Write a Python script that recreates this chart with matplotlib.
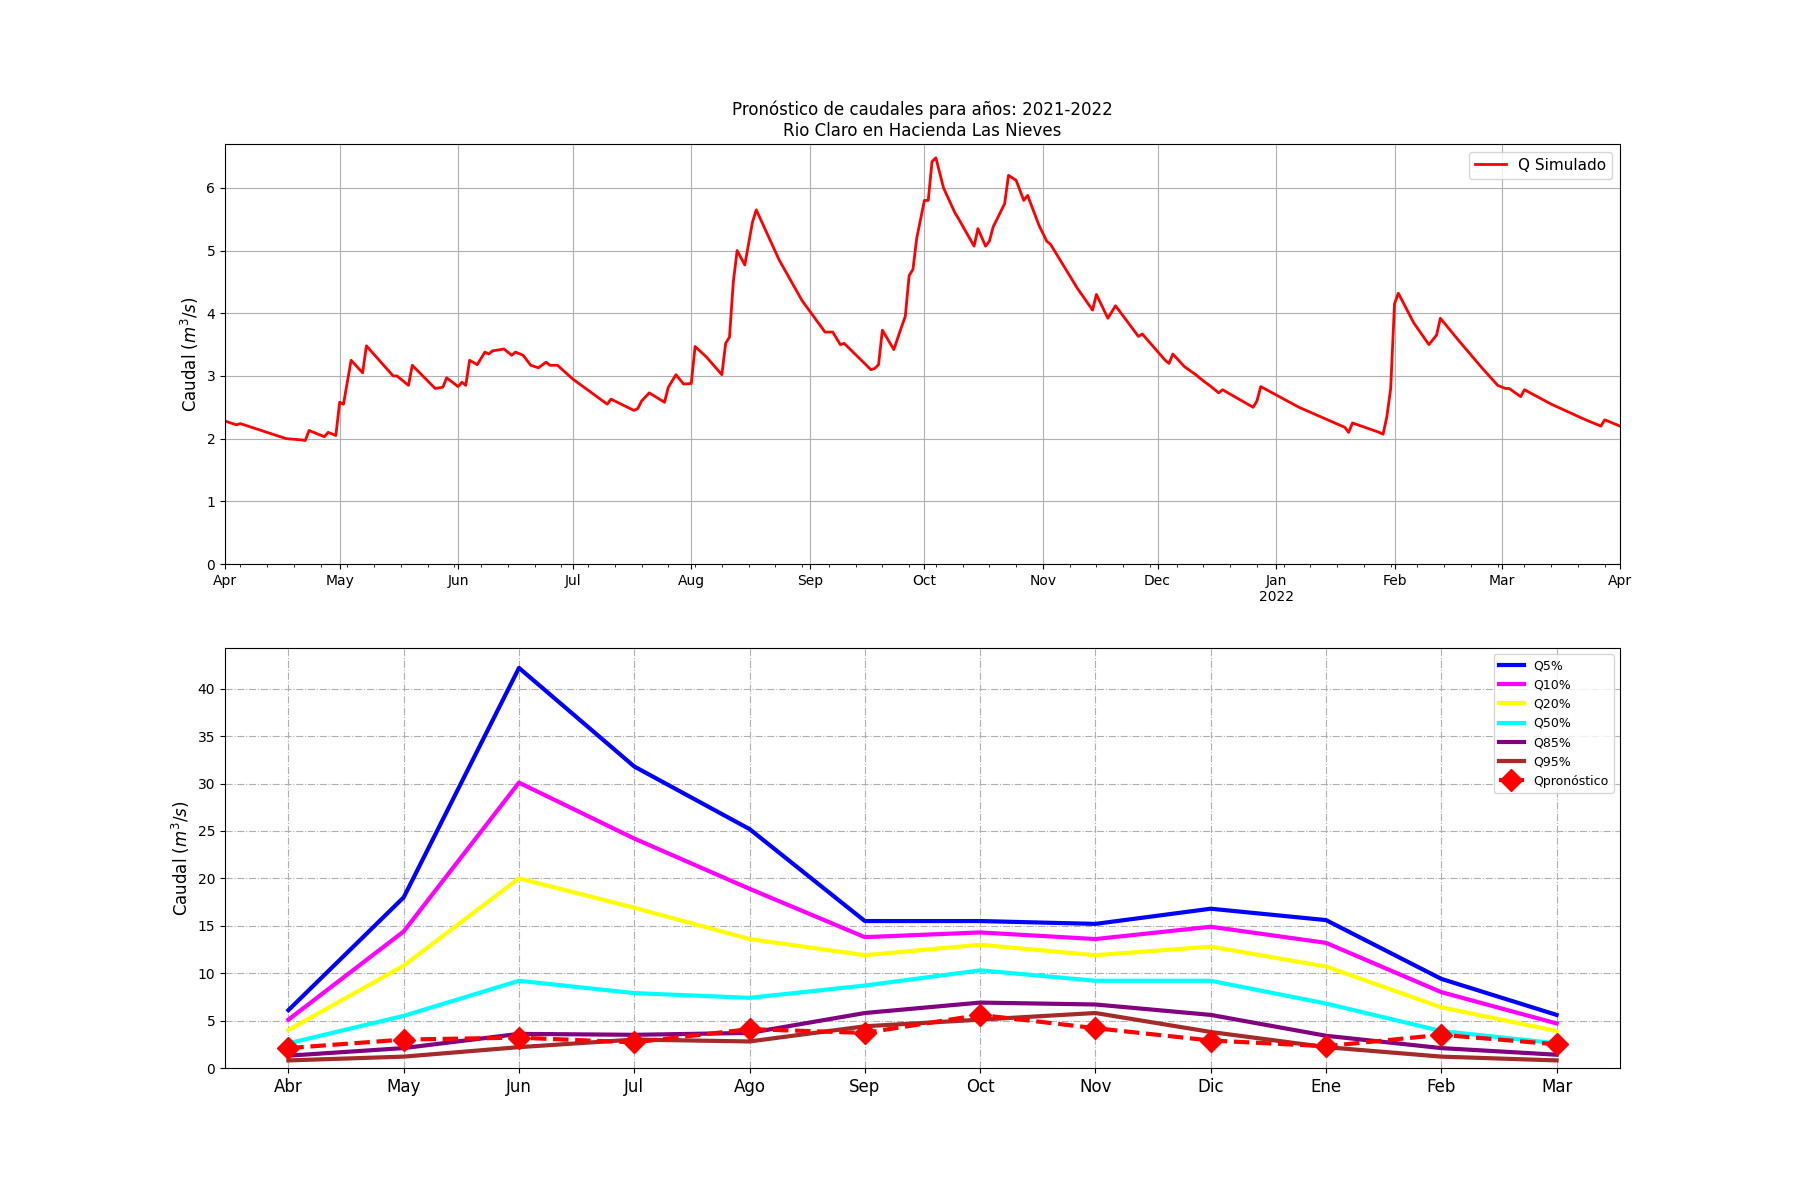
import pandas as pd
import numpy as np
import matplotlib
matplotlib.use("Agg")
import matplotlib.pyplot as plt
import matplotlib.dates as mdates

# daily simulated flow, breakpoints (days from 2021-04-01)
sim_day = [0, 3, 4, 16, 20, 21, 22, 26, 27, 29, 30, 31, 33, 36, 37, 44, 45, 48, 49, 55, 57, 58,
           61, 62, 63, 64, 66, 68, 69, 70, 73, 75, 76, 78, 80, 82, 84, 85, 87, 91, 100, 101,
           107, 108, 109, 111, 115, 116, 118, 120, 122, 123, 126, 130, 131, 132, 133, 134,
           136, 138, 139, 145, 151, 157, 159, 161, 162, 169, 170, 171, 172, 175, 177, 178,
           179, 180, 181, 183, 184, 185, 186, 188, 191, 192, 196, 197, 199, 200, 201, 202,
           204, 205, 207, 209, 210, 213, 215, 216, 223, 227, 228, 231, 233, 239, 240, 246,
           247, 248, 251, 254, 256, 258, 260, 261, 269, 270, 271, 281, 293, 294, 295, 302,
           303, 304, 305, 306, 307, 311, 315, 317, 318, 323, 329, 333, 335, 336, 339, 340,
           347, 356, 360, 361, 365]
sim_q = [2.28, 2.22, 2.24, 2.0, 1.98, 1.97, 2.13, 2.03, 2.1, 2.05, 2.58, 2.55, 3.25, 3.05, 3.48,
         3.0, 3.0, 2.85, 3.17, 2.8, 2.82, 2.97, 2.83, 2.9, 2.85, 3.25, 3.18, 3.38, 3.35, 3.4,
         3.43, 3.33, 3.38, 3.33, 3.17, 3.13, 3.22, 3.17, 3.17, 2.95, 2.55, 2.63, 2.45, 2.48,
         2.6, 2.73, 2.58, 2.82, 3.02, 2.87, 2.88, 3.47, 3.3, 3.02, 3.52, 3.62, 4.5, 5.0, 4.77,
         5.45, 5.65, 4.85, 4.2, 3.7, 3.7, 3.5, 3.52, 3.1, 3.12, 3.18, 3.73, 3.42, 3.78, 3.95,
         4.6, 4.7, 5.2, 5.8, 5.8, 6.42, 6.48, 6.0, 5.6, 5.5, 5.07, 5.35, 5.07, 5.15, 5.38, 5.5,
         5.75, 6.2, 6.12, 5.8, 5.88, 5.4, 5.15, 5.1, 4.4, 4.05, 4.3, 3.92, 4.12, 3.63, 3.67,
         3.25, 3.2, 3.35, 3.15, 3.02, 2.92, 2.83, 2.73, 2.78, 2.5, 2.6, 2.83, 2.5, 2.18, 2.1,
         2.25, 2.1, 2.07, 2.35, 2.8, 4.15, 4.32, 3.85, 3.5, 3.65, 3.92, 3.55, 3.12, 2.85, 2.8,
         2.8, 2.67, 2.78, 2.55, 2.3, 2.2, 2.3, 2.2]

meses = ["Abr", "May", "Jun", "Jul", "Ago", "Sep", "Oct", "Nov", "Dic", "Ene", "Feb", "Mar"]
q5 = [6.1, 18.0, 42.2, 31.8, 25.2, 15.5, 15.5, 15.2, 16.8, 15.6, 9.4, 5.6]
q10 = [5.1, 14.4, 30.1, 24.2, 18.9, 13.8, 14.3, 13.6, 14.9, 13.2, 8.0, 4.7]
q20 = [4.0, 10.8, 20.0, 16.9, 13.6, 11.9, 13.0, 11.9, 12.8, 10.7, 6.4, 3.9]
q50 = [2.6, 5.5, 9.2, 7.9, 7.4, 8.7, 10.3, 9.2, 9.2, 6.8, 3.9, 2.6]
q85 = [1.3, 2.1, 3.6, 3.5, 3.7, 5.8, 6.9, 6.7, 5.6, 3.4, 2.1, 1.4]
q95 = [0.8, 1.2, 2.2, 3.0, 2.8, 4.4, 5.1, 5.8, 3.8, 2.2, 1.2, 0.8]
qpron = [2.1, 3.0, 3.2, 2.7, 4.1, 3.7, 5.6, 4.2, 2.9, 2.3, 3.5, 2.5]

fig, (ax1, ax2) = plt.subplots(2, 1, figsize=(18, 12))

# top: simulated flow
fechas = pd.Timestamp("2021-04-01") + pd.to_timedelta(sim_day, unit="D")
ax1.plot(fechas, sim_q, color="red", lw=2, label="Q Simulado")
ax1.set_xlim(pd.Timestamp("2021-04-01"), pd.Timestamp("2022-04-01"))
ax1.set_ylim(0, 6.7)
ax1.xaxis.set_major_locator(mdates.MonthLocator())
ax1.xaxis.set_major_formatter(mdates.ConciseDateFormatter(mdates.MonthLocator(),
                              formats=["%Y", "%b", "%d", "%H:%M", "%H:%M", "%S.%f"],
                              show_offset=False))
ax1.xaxis.set_major_formatter(plt.FuncFormatter(
    lambda x, p: mdates.num2date(x).strftime("%b\n%Y") if mdates.num2date(x).month == 1
    else mdates.num2date(x).strftime("%b")))
ax1.xaxis.set_minor_locator(mdates.WeekdayLocator(byweekday=mdates.MO))
ax1.grid(True, which="major")
ax1.set_ylabel("Caudal ($m^3/s$)", fontsize=12)
ax1.set_title("Pronóstico de caudales para años: 2021-2022\nRio Claro en Hacienda Las Nieves", fontsize=12)
ax1.legend(loc="upper right", fontsize=11)

# bottom: monthly quantiles
x = np.arange(len(meses))
ax2.plot(x, q5, color="blue", lw=3, label="Q5%")
ax2.plot(x, q10, color="magenta", lw=3, label="Q10%")
ax2.plot(x, q20, color="yellow", lw=3, label="Q20%")
ax2.plot(x, q50, color="cyan", lw=3, label="Q50%")
ax2.plot(x, q85, color="purple", lw=3, label="Q85%")
ax2.plot(x, q95, color="brown", lw=3, label="Q95%")
ax2.plot(x, qpron, color="red", lw=3, ls="--", marker="D", ms=11, label="Qpronóstico")
ax2.set_xticks(x)
ax2.set_xticklabels(meses, fontsize=12)
ax2.set_xlim(-0.55, 11.55)
ax2.set_ylim(0, 44.3)
ax2.grid(True, ls="-.")
ax2.set_ylabel("Caudal ($m^3/s$)", fontsize=12)
ax2.legend(loc="upper right", fontsize=9)

plt.savefig("out.png", dpi=100)
